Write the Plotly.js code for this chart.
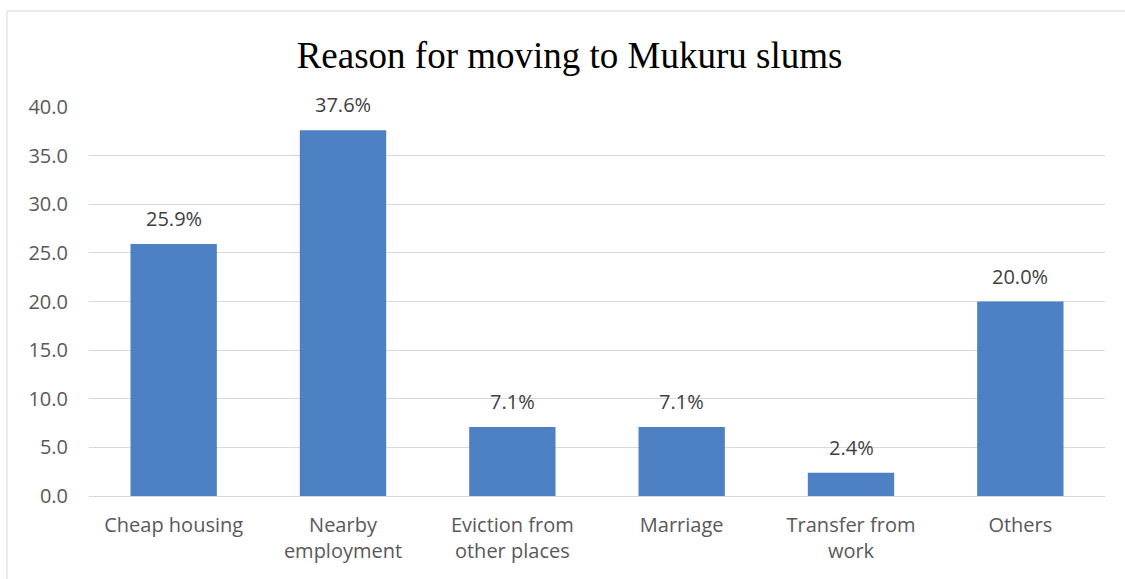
<!DOCTYPE html>
<html>
<head>
<meta charset="utf-8">
<script src="https://cdn.plot.ly/plotly-3.0.1.min.js"></script>
<style>
html,body{margin:0;padding:0;background:#fff;}
#chart{width:1125px;height:579px;}
</style>
</head>
<body>
<div id="chart"></div>
<script>
const categories = ["Cheap housing", "Nearby<br>employment", "Eviction from<br>other places", "Marriage", "Transfer from<br>work", "Others"];
const values = [25.9, 37.6, 7.1, 7.1, 2.4, 20.0];
const valueLabels = values.map(v => v.toFixed(1) + "%");
const tickVals = [0, 5, 10, 15, 20, 25, 30, 35, 40];
const tickText = tickVals.map(v => v.toFixed(1));

const trace = {
  type: "bar",
  x: categories,
  y: values,
  marker: {color: "#4e81c3", line: {width: 0}},
  hoverinfo: "x+y"
};

const annotations = categories.map((c, i) => ({
  x: c, y: values[i], xref: "x", yref: "y",
  text: valueLabels[i], showarrow: false,
  yanchor: "bottom", yshift: 10,
  font: {family: "Open Sans, sans-serif", size: 20, color: "#404040"}
}));

const layout = {
  width: 1125,
  height: 579,
  margin: {l: 89, r: 20, t: 107, b: 83},
  paper_bgcolor: "#ffffff",
  plot_bgcolor: "#ffffff",
  bargap: 0.49,
  showlegend: false,
  title: {
    text: "Reason for moving to Mukuru slums",
    font: {family: "Liberation Serif, Times New Roman, serif", size: 37, color: "#000000"},
    x: 0.473, xref: "paper", xanchor: "center",
    y: 0.905, yanchor: "middle"
  },
  xaxis: {
    type: "category",
    showgrid: false,
    showline: false,
    ticks: "",
    tickfont: {family: "Open Sans, sans-serif", size: 20, color: "#595959"},
    ticklabelstandoff: 15
  },
  yaxis: {
    range: [0, 40],
    tickvals: tickVals,
    ticktext: tickText,
    showgrid: true,
    gridcolor: "#d9d9d9",
    gridwidth: 1,
    zeroline: true,
    zerolinecolor: "#d9d9d9",
    zerolinewidth: 1,
    showline: false,
    ticks: "",
    tickfont: {family: "Open Sans, sans-serif", size: 20, color: "#595959"},
    ticklabelstandoff: 20
  },
  annotations: annotations,
  shapes: [{
    type: "rect", xref: "paper", yref: "paper",
    x0: -82 / 1016, x1: 1118 / 1016, y0: -0.3, y1: 1 + 96 / 389,
    line: {color: "#d9d9d9", width: 1}, fillcolor: "rgba(0,0,0,0)", layer: "below"
  }]
};

Plotly.newPlot("chart", [trace], layout, {displayModeBar: false, staticPlot: true});
</script>
</body>
</html>
